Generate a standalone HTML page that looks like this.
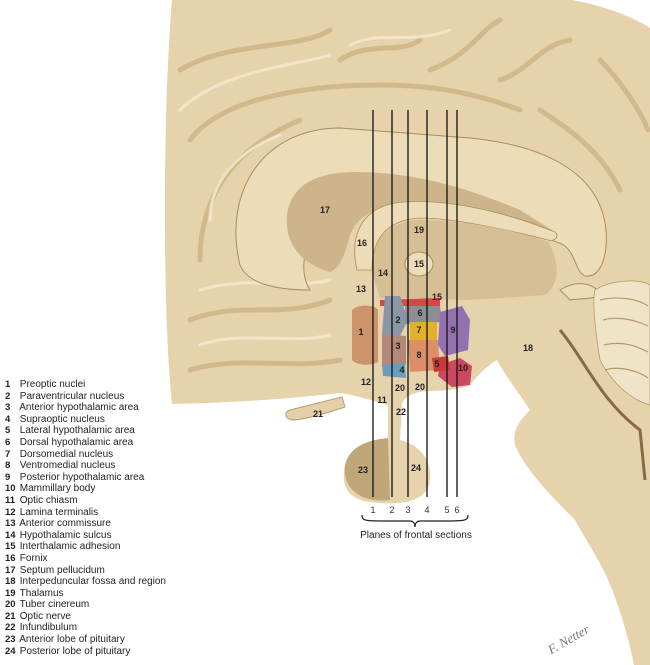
<!DOCTYPE html>
<html><head><meta charset="utf-8"><style>
body{margin:0;width:650px;height:665px;background:#fff;overflow:hidden;font-family:"Liberation Sans",sans-serif}
svg{position:absolute;left:0;top:0}
.lg{position:absolute;left:5px;top:379px;font-size:10px;line-height:11.6px;color:#222}
.lg b{display:inline-block;width:12px;font-size:9.5px}
</style></head><body>
<svg width="650" height="665" viewBox="0 0 650 665">
<path d="M172,0 L572,0 C600,5 630,15 650,28 L650,665 L634,665 C625,620 610,580 598,560 C590,545 580,530 575,520 C555,500 525,470 515,445 C512,430 520,420 530,410 C520,395 505,375 497,360 C488,365 478,375 470,385 C455,392 430,390 420,392 C410,394 403,398 402,405 L400,440 C420,445 432,460 430,480 C428,500 405,505 380,503 C350,502 340,490 345,465 C350,445 370,440 388,438 L388,405 C370,400 355,395 340,393 C300,398 230,403 172,404 C163,320 162,120 172,0 Z" fill="#e6d3ab"/>
<g fill="none" stroke="#cdb385" stroke-width="5" stroke-linecap="round" opacity="0.8">
<path d="M180,70 C230,40 300,50 330,30"/>
<path d="M340,60 C370,40 400,55 420,40"/>
<path d="M430,70 C470,55 480,30 500,20"/>
<path d="M500,80 C530,70 540,45 570,40"/>
<path d="M190,140 C220,100 300,85 380,85 C440,85 480,95 520,110"/>
<path d="M540,110 C570,130 600,150 620,190"/>
<path d="M600,60 C620,80 640,110 648,130"/>
<path d="M200,260 C200,200 230,150 300,120"/>
<path d="M190,320 C240,300 280,320 330,300"/>
<path d="M190,370 C240,355 290,370 340,360"/>
</g>
<g fill="none" stroke="#f5ead0" stroke-width="3" stroke-linecap="round" opacity="0.8">
<path d="M180,110 C220,70 300,65 330,55"/><path d="M210,220 C210,180 240,150 280,135"/><path d="M200,290 C250,275 290,290 330,280"/><path d="M200,345 C240,330 290,345 330,335"/><path d="M350,45 C380,30 410,45 450,30"/>
</g>
<path d="M240,265 C222,190 265,128 340,128 L470,138 C540,145 600,170 606,230 C608,258 600,278 585,276 C575,272 576,252 562,244 C530,232 480,215 440,203 C400,195 350,198 325,220 C300,245 300,275 310,290 C280,290 248,285 240,265Z" fill="#ecdcb8" stroke="#a88d5e" stroke-width="1"/>
<path d="M287,225 C285,190 310,172 355,172 C410,172 460,185 520,210 L555,232 C520,222 470,210 430,205 C390,200 360,210 350,235 C345,255 340,268 330,272 C305,265 288,248 287,225Z" fill="#cdb48b"/>
<path d="M357,270 C350,240 358,210 395,203 C440,197 500,210 555,232 C560,236 555,242 548,240 C500,228 450,218 420,218 C385,220 372,240 372,270 Z" fill="#ecdcb8" stroke="#a88d5e" stroke-width="0.8"/>
<path d="M372,272 C372,240 385,222 420,220 C470,220 520,232 548,242 C560,260 560,285 545,295 L470,300 L380,298 Z" fill="#d6bf95"/>
<ellipse cx="419" cy="264" rx="14" ry="12" fill="#ecdcb8" stroke="#a88d5e"/>
<path d="M560,290 C575,280 595,282 600,295 C590,300 580,298 570,300Z" fill="#ecdcb8" stroke="#a88d5e"/>
<path d="M595,290 C610,280 640,278 650,285 L650,405 C630,400 610,380 600,360 C595,330 592,300 595,290Z" fill="#efe3c8" stroke="#b39868" stroke-width="0.8"/>
<g fill="none" stroke="#b8996a" stroke-width="1.2">
<path d="M600,300 C620,295 640,300 648,306"/><path d="M603,320 C620,315 640,322 648,326"/><path d="M604,345 C625,340 640,348 648,352"/><path d="M605,370 C620,365 640,372 648,378"/>
</g>
<path d="M560,330 C585,360 600,400 640,430 L645,480" fill="none" stroke="#8a6a40" stroke-width="3"/>
<path d="M290,410 C310,405 330,400 342,397 L345,407 C330,412 305,420 292,420 C284,418 284,412 290,410Z" fill="#e3cfa8" stroke="#b59c70" stroke-width="1"/>
<path d="M345,465 C350,445 370,440 388,438 L390,500 C365,503 342,492 345,465Z" fill="#bfa77a"/>
<path d="M352,310 C360,303 375,305 378,310 L378,362 C370,366 358,366 352,360Z" fill="#c88d63" opacity=".9"/>
<path d="M380,300 L440,298 L440,306 L380,306Z" fill="#d04a4a"/>
<path d="M385,296 L400,296 L408,320 L400,336 L382,334Z" fill="#8896a6"/>
<path d="M405,306 L440,306 L442,322 L406,324Z" fill="#8d8d95"/>
<path d="M382,334 L406,336 L406,365 L382,365Z" fill="#b5897a"/>
<rect x="410" y="322" width="27" height="18" fill="#e2b02a"/>
<path d="M408,340 L438,340 L440,370 L410,372Z" fill="#db8e68"/>
<path d="M440,312 L462,306 L470,320 L468,350 L445,356 L438,345Z" fill="#9371b0"/>
<path d="M440,365 L460,358 L472,366 L470,385 L452,387 L438,376Z" fill="#cc4760"/>
<path d="M432,358 L448,356 L450,370 L434,372Z" fill="#c83a3a"/>
<path d="M382,365 L405,363 L406,378 L383,376Z" fill="#6a9cc0"/>
<g stroke="#111" stroke-width="1.3">
<line x1="373" y1="110" x2="373" y2="497"/><line x1="392" y1="110" x2="392" y2="497"/><line x1="408" y1="110" x2="408" y2="497"/><line x1="427" y1="110" x2="427" y2="497"/><line x1="447" y1="110" x2="447" y2="497"/><line x1="457" y1="110" x2="457" y2="497"/>
</g>
<g font-family="Liberation Sans" font-size="9" font-weight="bold" fill="#222" text-anchor="middle">
<text x="325" y="213">17</text><text x="362" y="246">16</text><text x="419" y="233">19</text><text x="419" y="267">15</text><text x="383" y="276">14</text><text x="361" y="292">13</text><text x="437" y="300">15</text><text x="361" y="335">1</text><text x="398" y="323">2</text><text x="420" y="316">6</text><text x="453" y="333">9</text><text x="419" y="333">7</text><text x="398" y="349">3</text><text x="419" y="358">8</text><text x="437" y="367">5</text><text x="463" y="371">10</text><text x="402" y="373">4</text><text x="366" y="385">12</text><text x="400" y="391">20</text><text x="420" y="390">20</text><text x="382" y="403">11</text><text x="401" y="415">22</text><text x="318" y="417">21</text><text x="363" y="473">23</text><text x="416" y="471">24</text><text x="528" y="351">18</text>
</g>
<g font-family="Liberation Sans" font-size="9" fill="#333" text-anchor="middle">
<text x="373" y="513">1</text><text x="392" y="513">2</text><text x="408" y="513">3</text><text x="427" y="513">4</text><text x="447" y="513">5</text><text x="457" y="513">6</text>
</g>
<path d="M362,515 C362,522 366,521 410,521 C413,521 415,523 415,527 C415,523 417,521 420,521 C464,521 468,522 468,515" fill="none" stroke="#222" stroke-width="1.2"/>
<text x="416" y="538" font-family="Liberation Sans" font-size="10" fill="#222" text-anchor="middle">Planes of frontal sections</text>
<text x="545" y="648" font-family="Liberation Serif" font-style="italic" font-size="13" fill="#777" transform="rotate(-30 560 640)">F. Netter</text>
</svg>
<div class="lg">
<div><b>1</b> Preoptic nuclei</div><div><b>2</b> Paraventricular nucleus</div><div><b>3</b> Anterior hypothalamic area</div><div><b>4</b> Supraoptic nucleus</div><div><b>5</b> Lateral hypothalamic area</div><div><b>6</b> Dorsal hypothalamic area</div><div><b>7</b> Dorsomedial nucleus</div><div><b>8</b> Ventromedial nucleus</div><div><b>9</b> Posterior hypothalamic area</div><div><b>10</b> Mammillary body</div><div><b>11</b> Optic chiasm</div><div><b>12</b> Lamina terminalis</div><div><b>13</b> Anterior commissure</div><div><b>14</b> Hypothalamic sulcus</div><div><b>15</b> Interthalamic adhesion</div><div><b>16</b> Fornix</div><div><b>17</b> Septum pellucidum</div><div><b>18</b> Interpeduncular fossa and region</div><div><b>19</b> Thalamus</div><div><b>20</b> Tuber cinereum</div><div><b>21</b> Optic nerve</div><div><b>22</b> Infundibulum</div><div><b>23</b> Anterior lobe of pituitary</div><div><b>24</b> Posterior lobe of pituitary</div>
</div>
</body></html>
